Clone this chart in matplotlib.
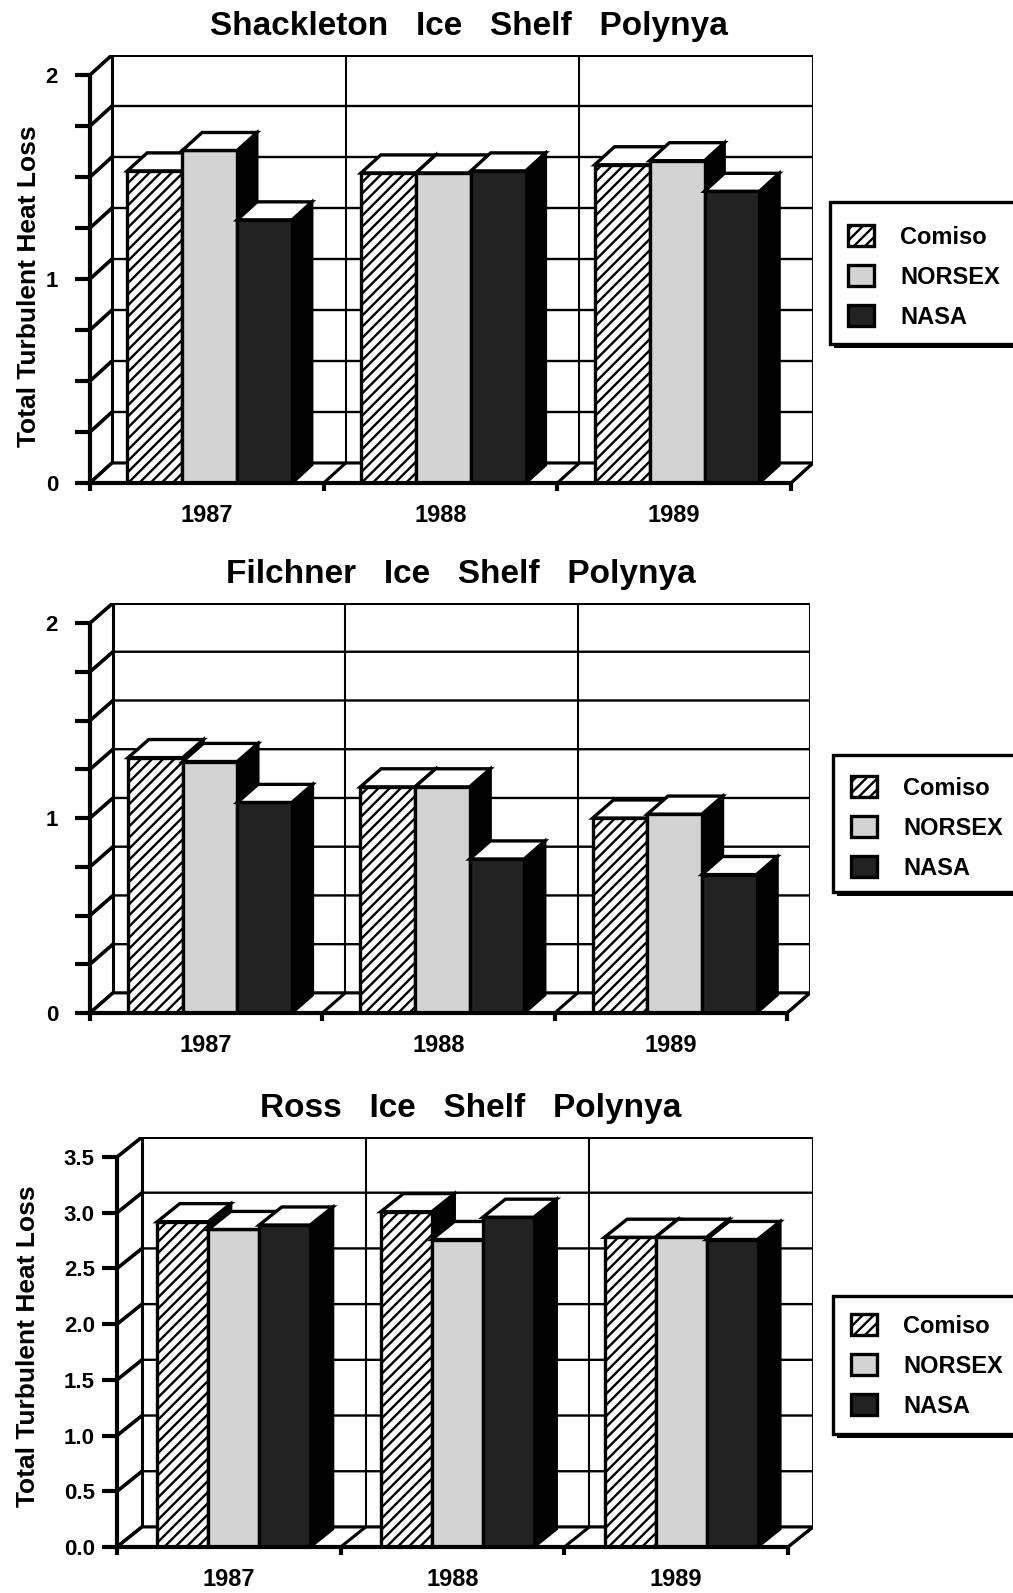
import matplotlib
matplotlib.use("Agg")
import matplotlib.pyplot as plt
from matplotlib.patches import Polygon, Patch, Rectangle
import numpy as np

plt.rcParams['font.family'] = ['Liberation Sans', 'DejaVu Sans']
plt.rcParams['hatch.linewidth'] = 1.7

# Data (total turbulent heat loss)
years = ['1987', '1988', '1989']
seriesNames = ['Comiso', 'NORSEX', 'NASA']

shackletonComiso = [1.53, 1.52, 1.56]
shackletonNorsex = [1.63, 1.52, 1.58]
shackletonNasa = [1.29, 1.53, 1.43]

filchnerComiso = [1.31, 1.16, 1.00]
filchnerNorsex = [1.29, 1.16, 1.02]
filchnerNasa = [1.08, 0.79, 0.71]

rossComiso = [2.92, 3.01, 2.78]
rossNorsex = [2.85, 2.76, 2.78]
rossNasa = [2.89, 2.96, 2.76]

# Styles for each series
faceColors = ['white', '#d3d3d3', '#222222']
hatches = ['///', None, None]

W, H = 1013, 1593
fig = plt.figure(figsize=(W / 100, H / 100), dpi=100)


def pxRect(left, right, bottom, top):
    """Axes rectangle from pixel positions (origin top-left)."""
    return [left / W, 1 - bottom / H, (right - left) / W, (bottom - top) / H]


def drawPanel(rect, values, yMax, depthX, depthY, majorTicks, minorTicks, tickFmt,
              barOffset, barWidth, yLabel=None, yLabelPos=(0, 0.5), tickPad=8):
    ax = fig.add_axes(rect)
    nCat = len(years)
    ax.set_xlim(0, nCat + depthX)
    ax.set_ylim(0, yMax + depthY)
    ax.patch.set_visible(False)

    # Back wall
    ax.add_patch(Polygon([(depthX, depthY), (nCat + depthX, depthY),
                          (nCat + depthX, yMax + depthY), (depthX, yMax + depthY)],
                         closed=True, facecolor='white', edgecolor='black', lw=2.2, zorder=1))
    levels = sorted(set(majorTicks) | set(minorTicks))
    for level in levels:
        ax.plot([0, depthX, nCat + depthX], [level, level + depthY, level + depthY],
                color='black', lw=1.7, zorder=2, solid_capstyle='butt')
    for k in range(1, nCat):
        ax.plot([k + depthX, k + depthX], [depthY, yMax + depthY],
                color='black', lw=1.5, zorder=2)
    # Left wall diagonals get a heavier stroke
    for level in levels:
        ax.plot([0, depthX], [level, level + depthY], color='black', lw=2.6, zorder=2)

    # Floor
    ax.add_patch(Polygon([(0, 0), (nCat, 0), (nCat + depthX, depthY), (depthX, depthY)],
                         closed=True, facecolor='white', edgecolor='black', lw=2.2, zorder=3))
    for k in range(nCat + 1):
        ax.plot([k, k + depthX], [0, depthY], color='black', lw=2.2, zorder=3)

    # Bars with top and side faces
    bdx, bdy = 0.9 * depthX, 0.9 * depthY
    for j, vals in enumerate(values):
        xs = np.arange(nCat) + barOffset + j * barWidth
        z = 10 + 3 * j
        for x, v in zip(xs, vals):
            ax.add_patch(Polygon([(x + barWidth, 0), (x + barWidth + bdx, bdy),
                                  (x + barWidth + bdx, v + bdy), (x + barWidth, v)],
                                 closed=True, facecolor='black', edgecolor='black',
                                 lw=2.2, zorder=z))
            ax.add_patch(Polygon([(x, v), (x + barWidth, v), (x + barWidth + bdx, v + bdy),
                                  (x + bdx, v + bdy)],
                                 closed=True, facecolor='white', edgecolor='black',
                                 lw=2.4, zorder=z + 2))
        ax.bar(xs, vals, width=barWidth, align='edge', color=faceColors[j],
               hatch=hatches[j], edgecolor='black', lw=2.4, zorder=z + 1)

    # Front axes
    for side in ['top', 'right']:
        ax.spines[side].set_visible(False)
    ax.spines['left'].set_bounds(0, yMax)
    ax.spines['bottom'].set_bounds(0, nCat)
    for side in ['left', 'bottom']:
        ax.spines[side].set_linewidth(3)
        ax.spines[side].set_zorder(30)

    ax.set_yticks(majorTicks)
    ax.set_yticks(minorTicks, minor=True)
    ax.set_yticklabels([tickFmt % t for t in majorTicks])
    ax.tick_params(axis='y', which='both', direction='out', length=11, width=3,
                   pad=tickPad, labelsize=16)
    for lab in ax.get_yticklabels():
        lab.set_fontweight('bold')

    ax.set_xticks(np.arange(nCat + 1))
    ax.set_xticklabels([])
    ax.set_xticks(np.arange(nCat) + 0.5, minor=True)
    ax.set_xticklabels(years, minor=True, fontsize=17, fontweight='bold')
    ax.tick_params(axis='x', which='major', direction='out', length=6, width=3)
    ax.tick_params(axis='x', which='minor', length=0, pad=15)

    if yLabel:
        ax.set_ylabel(yLabel, fontsize=19, fontweight='bold')
        ax.yaxis.set_label_coords(*yLabelPos)
    return ax


def drawLegend(ax, left, top, bottom, swatchTop):
    # Frame with a dark drop shadow, running off the right edge
    fig.add_artist(Rectangle(((left + 4) / W, 1 - (bottom + 4) / H), 400 / W, (bottom - top) / H,
                             transform=fig.transFigure, facecolor='black', edgecolor='black',
                             lw=0, zorder=-2))
    fig.add_artist(Rectangle((left / W, 1 - bottom / H), 400 / W, (bottom - top) / H,
                             transform=fig.transFigure, facecolor='white', edgecolor='black',
                             lw=2.4, zorder=-1))
    handles = [Patch(facecolor=faceColors[j], hatch=hatches[j], edgecolor='black', lw=2.4,
                     label=seriesNames[j]) for j in range(len(seriesNames))]
    leg = ax.legend(handles=handles, loc='upper left',
                    bbox_to_anchor=((left + 18) / W, 1 - swatchTop / H),
                    bbox_transform=fig.transFigure, frameon=False,
                    prop={'size': 17, 'weight': 'bold'},
                    handlelength=1.1, handleheight=1.0, labelspacing=0.7,
                    handletextpad=1.1, borderpad=0, borderaxespad=0)
    leg.set_zorder(50)


titleKw = dict(ha='center', va='center', fontsize=24, fontweight='bold')

ax1 = drawPanel(pxRect(90, 813, 483, 55),
                [shackletonComiso, shackletonNorsex, shackletonNasa],
                yMax=2, depthX=0.094, depthY=0.098,
                majorTicks=[0, 1, 2], minorTicks=list(np.arange(0, 2.01, 0.25)), tickFmt='%d',
                barOffset=0.16, barWidth=0.235,
                yLabel='Total Turbulent Heat Loss', yLabelPos=(-0.068, 0.46), tickPad=12)
fig.text(469 / W, 1 - 27 / H, 'Shackleton   Ice   Shelf   Polynya', **titleKw)
drawLegend(ax1, 830, 202, 344, 225)

ax2 = drawPanel(pxRect(90, 810, 1013, 603),
                [filchnerComiso, filchnerNorsex, filchnerNasa],
                yMax=2, depthX=0.099, depthY=0.103,
                majorTicks=[0, 1, 2], minorTicks=list(np.arange(0, 2.01, 0.25)), tickFmt='%d',
                barOffset=0.164, barWidth=0.235, tickPad=12)
fig.text(461 / W, 1 - 575 / H, 'Filchner   Ice   Shelf   Polynya', **titleKw)
drawLegend(ax2, 833, 755, 892, 776)

ax3 = drawPanel(pxRect(117, 813, 1547, 1137),
                [rossComiso, rossNorsex, rossNasa],
                yMax=3.5, depthX=0.112, depthY=0.18,
                majorTicks=list(np.arange(0, 3.51, 0.5)), minorTicks=[], tickFmt='%.1f',
                barOffset=0.18, barWidth=0.228,
                yLabel='Total Turbulent Heat Loss', yLabelPos=(-0.11, 0.49), tickPad=5)
fig.text(471 / W, 1 - 1109 / H, 'Ross   Ice   Shelf   Polynya', **titleKw)
drawLegend(ax3, 833, 1296, 1434, 1314)

fig.savefig('out.png', dpi=100, facecolor='white')
